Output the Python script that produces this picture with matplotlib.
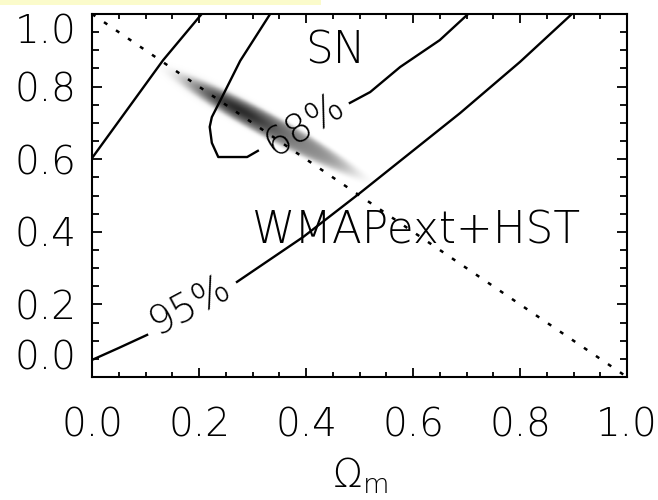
import numpy as np
import matplotlib
matplotlib.use("Agg")
import matplotlib.pyplot as plt
from matplotlib.patches import Rectangle
from matplotlib.ticker import FixedLocator, MultipleLocator

plt.rcParams["font.weight"] = "light"

# Supernova confidence contours in the (Omega_m, Omega_Lambda) plane.
# Each contour is split into pieces where its level label sits.
sn68_left_x = [0.333, 0.277, 0.243, 0.224, 0.220, 0.224, 0.236, 0.290, 0.310]
sn68_left_y = [1.000, 0.871, 0.771, 0.716, 0.689, 0.645, 0.606, 0.606, 0.623]
sn68_right_x = [0.482, 0.520, 0.576, 0.650, 0.703]
sn68_right_y = [0.755, 0.785, 0.854, 0.928, 1.000]

sn95_upper_x = [0.000, 0.133, 0.205]
sn95_upper_y = [0.603, 0.873, 1.000]
sn95_lower_a_x = [0.000, 0.050, 0.103]
sn95_lower_a_y = [0.047, 0.080, 0.116]
sn95_lower_b_x = [0.271, 0.395, 0.501, 0.688, 0.800, 0.897]
sn95_lower_b_y = [0.262, 0.386, 0.507, 0.727, 0.868, 1.000]

# Flat universe: Omega_m + Omega_Lambda = 1
flat_x = [0.0, 1.0]
flat_y = [1.0, 0.0]

# WMAPext+HST likelihood: ends of the degeneracy direction and its profile
wmap_tip = (0.168, 0.824)
wmap_end = (0.486, 0.565)
wmap_core = dict(u0=0.140, su=0.070, sv=0.014, amp=0.38)
wmap_halo = dict(u0=0.205, su=0.180, sv=0.025, amp=0.45)

ticks = [0.0, 0.2, 0.4, 0.6, 0.8, 1.0]
tick_labels = ["0.0", "0.2", "0.4", "0.6", "0.8", "1.0"]

fig = plt.figure(figsize=(6.58, 5.0), dpi=100)
fig.add_artist(Rectangle((0, 0.99), 0.488, 0.01, transform=fig.transFigure,
                         facecolor="#FBFBCB", edgecolor="none", zorder=0))
ax = fig.add_axes([92 / 658, 123 / 500, 535 / 658, 363 / 500])

# Likelihood shading built along the degeneracy direction
gx = np.linspace(0, 1, 600)
X, Y = np.meshgrid(gx, gx)
d = np.array(wmap_end) - np.array(wmap_tip)
d = d / np.hypot(*d)
U = (X - wmap_tip[0]) * d[0] + (Y - wmap_tip[1]) * d[1]
V = -(X - wmap_tip[0]) * d[1] + (Y - wmap_tip[1]) * d[0]
r2c = ((U - wmap_core["u0"]) / wmap_core["su"]) ** 2 + (V / wmap_core["sv"]) ** 2
r2h = ((U - wmap_halo["u0"]) / wmap_halo["su"]) ** 2 + (V / wmap_halo["sv"]) ** 2
alpha = wmap_core["amp"] * np.exp(-0.5 * r2c) + wmap_halo["amp"] * np.exp(-0.5 * r2h ** 3)
rgba = np.zeros(X.shape + (4,))
rgba[..., 3] = np.clip(alpha, 0, 1)
ax.imshow(rgba, extent=(0, 1, 0, 1), origin="lower", aspect="auto",
          interpolation="bilinear", zorder=1)

lw = 1.7
for xs, ys in [(sn68_left_x, sn68_left_y), (sn68_right_x, sn68_right_y),
               (sn95_upper_x, sn95_upper_y), (sn95_lower_a_x, sn95_lower_a_y),
               (sn95_lower_b_x, sn95_lower_b_y)]:
    ax.plot(xs, ys, color="black", lw=lw, zorder=3)
ax.plot(flat_x, flat_y, color="black", lw=1.8, ls=(0, (1.6, 4.2)), zorder=3)

ax.text(0.398, 0.694, "68%", fontsize=28, rotation=32, rotation_mode="anchor",
        ha="center", va="center", zorder=4)
ax.text(0.183, 0.198, "95%", fontsize=28, rotation=28, rotation_mode="anchor",
        ha="center", va="center", zorder=4)
ax.text(0.398, 0.865, "SN", fontsize=31.5, ha="left", va="baseline", zorder=4)
ax.text(0.299, 0.369, "WMAPext+HST", fontsize=31.5, ha="left", va="baseline", zorder=4)

ax.set_xlim(0, 1)
ax.set_ylim(0, 1)
ax.xaxis.set_major_locator(FixedLocator(ticks))
ax.yaxis.set_major_locator(FixedLocator(ticks))
ax.xaxis.set_minor_locator(MultipleLocator(0.05))
ax.yaxis.set_minor_locator(MultipleLocator(0.05))
ax.set_xticklabels(tick_labels)
ax.set_yticklabels(tick_labels)

ax.tick_params(which="both", direction="in", top=True, right=True,
               width=1.3, labelsize=28, color="black")
ax.tick_params(axis="x", which="major", length=6.5, pad=21)
ax.tick_params(axis="x", which="minor", length=3.6)
ax.tick_params(axis="y", which="major", length=7.2, pad=11)
ax.tick_params(axis="y", which="minor", length=4.7)
for s in ax.spines.values():
    s.set_linewidth(1.5)

ax.set_xlabel(r"$\Omega_{\rm m}$", fontsize=28, labelpad=8, fontweight="normal")

# End labels on the y axis sit inside the axis range
yticks = ax.yaxis.get_major_ticks()
yticks[0].label1.set_verticalalignment("bottom")
yticks[-1].label1.set_verticalalignment("top")

fig.savefig("out.png", dpi=100)
